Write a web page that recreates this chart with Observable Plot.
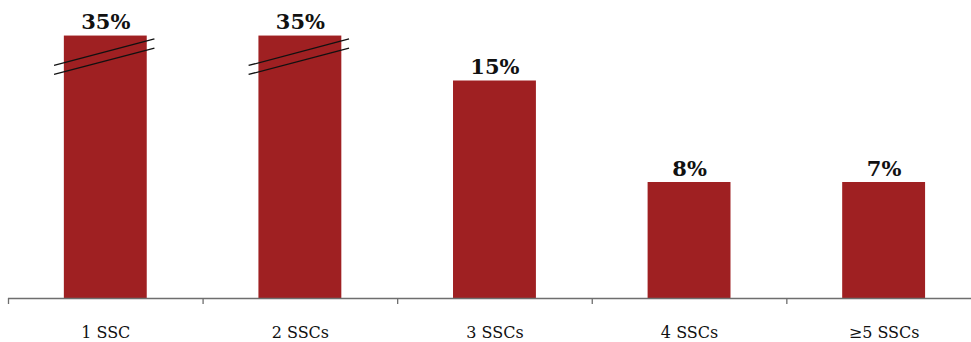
<!DOCTYPE html>
<html>
<head>
<meta charset="utf-8">
<script src="https://cdn.jsdelivr.net/npm/d3@7"></script>
<script src="https://cdn.jsdelivr.net/npm/@observablehq/plot@0.6"></script>
<style>
  html, body { margin: 0; padding: 0; background: #fff; }
  #chart svg { display: block; }
</style>
</head>
<body>
<div id="chart"></div>
<script>
// Categories and labelled shares
const categories = ["1 SSC", "2 SSCs", "3 SSCs", "4 SSCs", "≥5 SSCs"];
const values = [35, 35, 15, 8, 7];           // labelled percentages
const drawnValues = [18.1, 18.1, 15, 8, 8];  // bar lengths as drawn (first two cut by an axis break)
const broken = [true, true, false, false, false];

const data = categories.map((c, i) => ({i, c, v: values[i], h: drawnValues[i], broken: broken[i]}));

const serif = "'DejaVu Serif', 'Liberation Serif', serif";
const barColor = "#9f2022";
const halfBar = 0.213;

const chart = Plot.plot({
  width: 971,
  height: 342,
  marginLeft: 8,
  marginRight: 0,
  marginTop: 8,
  marginBottom: 44,
  style: {fontFamily: serif, fontSize: "16px", color: "#222", background: "#fff"},
  x: {type: "linear", domain: [-0.5, 4.449], axis: null},
  y: {domain: [0, 20], axis: null},
  marks: [
    Plot.rectY(data, {x1: d => d.i - halfBar, x2: d => d.i + halfBar, y1: 0, y2: "h", fill: barColor}),
    // axis-break marks on truncated bars
    Plot.link(data.filter(d => d.broken), {
      x1: d => d.i - 0.266, x2: d => d.i + 0.25,
      y1: d => d.h - 2.03, y2: d => d.h - 0.19,
      stroke: "#111", strokeWidth: 1.3
    }),
    Plot.link(data.filter(d => d.broken), {
      x1: d => d.i - 0.266, x2: d => d.i + 0.25,
      y1: d => d.h - 2.65, y2: d => d.h - 0.84,
      stroke: "#111", strokeWidth: 1.3
    }),
    Plot.ruleY([0], {stroke: "#6e6e6e", strokeWidth: 1.3}),
    Plot.axisX({
      ticks: d3.range(categories.length).map(i => i - 0.5),
      tickSize: 6, tickFormat: () => "", label: null, stroke: "#6e6e6e", strokeWidth: 1.3
    }),
    Plot.axisX({
      ticks: d3.range(categories.length),
      tickSize: 0, tickPadding: 28, label: null,
      tickFormat: i => categories[i],
      fontSize: 16, fontFamily: serif, fill: "#111"
    }),
    Plot.text(data, {
      x: "i", y: "h", text: d => d.v + "%",
      dy: -7, lineAnchor: "bottom",
      fontWeight: "bold", fontSize: 21, fontFamily: serif, fill: "#111"
    })
  ]
});

document.getElementById("chart").appendChild(chart);
</script>
</body>
</html>
